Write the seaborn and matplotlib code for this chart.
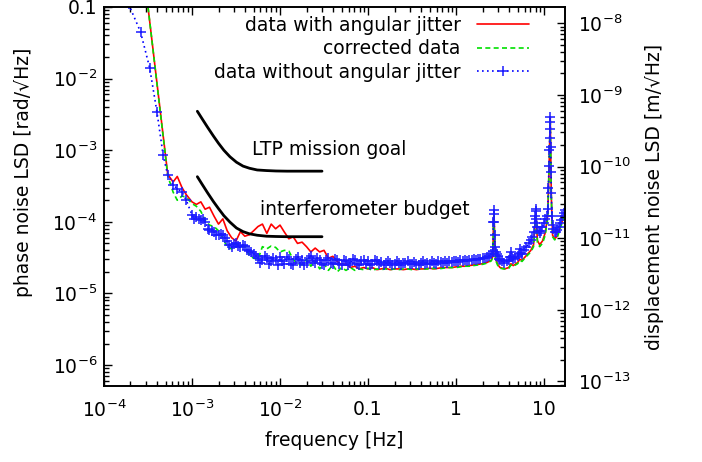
import matplotlib
matplotlib.use('Agg')
import matplotlib.pyplot as plt
import matplotlib.ticker as mticker
import numpy as np
import seaborn as sns

# all spectra below are phase noise LSD in units of 1e-5 rad/sqrt(Hz)
unit = 1e-5
nan = float('nan')

# frequency grid [Hz] for the two jitter-affected spectra
freq = [1.9e-4, 2.6e-4, 3.3e-4, 4.0e-4, 4.7e-4, 5.3e-4, 6.1e-4, 6.8e-4, 7.7e-4, 8.6e-4,
        1.0e-3, 1.12e-3, 1.26e-3, 1.41e-3, 1.58e-3, 1.78e-3, 2.0e-3, 2.24e-3, 2.51e-3, 2.82e-3,
        3.16e-3, 3.55e-3, 3.98e-3, 4.47e-3, 5.01e-3, 5.62e-3, 6.31e-3, 7.08e-3, 7.94e-3, 8.91e-3,
        0.01, 0.0112, 0.0126, 0.0141, 0.0158, 0.0178, 0.02, 0.0224, 0.0251, 0.0282,
        0.0316, 0.0355, 0.0398, 0.0447, 0.0501, 0.0562, 0.0631, 0.0708, 0.0794, 0.0891,
        0.1, 0.112, 0.126, 0.141, 0.158, 0.178, 0.2, 0.224, 0.251, 0.282,
        0.316, 0.355, 0.398, 0.447, 0.501, 0.562, 0.631, 0.708, 0.794, 0.891,
        1.0, 1.12, 1.26, 1.41, 1.58, 1.78, 2.0, 2.24, 2.51, 2.62,
        2.66, 2.70, 2.74, 2.82, 3.0, 3.16, 3.55, 3.98, 4.2, 4.47,
        5.01, 5.3, 5.62, 6.31, 7.08, 7.6, 7.9, 8.1, 8.4, 8.91,
        9.6, 10.3, 11.0, 11.4, 11.6, 11.75, 11.9, 12.1, 12.5, 13.2,
        14.1, 15.1, 16.2, 17.4]

with_jitter = [nan, 75000, 6400, 860, 160, 46, 36, 43, 30, 24,
               19, 17.5, 19, 15, 16, 12, 9.3, 11, 7.5, 6.0,
               5.4, 7.3, 6.3, 6.6, 7.5, 8.6, 9.3, 6.9, 9.3, 8.0,
               9.0, 7.2, 5.8, 6.2, 5.0, 5.2, 4.5, 3.8, 4.3, 3.8,
               4.0, 3.1, 3.3, 2.8, 2.5, 2.6, 2.3, 2.4, 2.2, 2.3,
               2.2, 2.3, 2.15, 2.2, 2.25, 2.15, 2.2, 2.2, 2.15, 2.2,
               2.2, 2.15, 2.2, 2.2, 2.25, 2.2, 2.25, 2.3, 2.3, 2.3,
               2.35, 2.4, 2.4, 2.45, 2.5, 2.55, 2.6, 2.7, 2.9, 3.3,
               9, 14, 6, 3.0, 2.5, 2.3, 2.2, 2.3, 2.6, 2.45,
               2.7, 3.0, 2.9, 3.4, 4.0, 4.8, 9, 13, 5.5, 4.8,
               5.4, 7.0, 12, 55, 140, 290, 100, 22, 6.5, 5.8,
               6.3, 8.0, 10.5, 13.5]

corrected = [nan, 75000, 6400, 840, 155, 44, 26, 20, 23, 22,
             18, 16.5, 14, 10.5, 9.0, 8.6, 7.5, 6.0, 4.4, 4.2,
             4.9, 4.4, 4.6, 3.4, 3.1, 3.0, 4.5, 4.2, 4.6, 4.4,
             3.8, 4.0, 3.9, 3.0, 2.6, 2.5, 3.0, 2.4, 2.9, 2.2,
             2.6, 2.1, 2.5, 2.0, 2.3, 2.1, 2.3, 2.1, 2.2, 2.15,
             2.25, 2.1, 2.2, 2.15, 2.2, 2.15, 2.2, 2.15, 2.2, 2.2,
             2.15, 2.2, 2.2, 2.2, 2.2, 2.25, 2.2, 2.25, 2.3, 2.3,
             2.3, 2.35, 2.4, 2.4, 2.45, 2.5, 2.55, 2.65, 2.85, 3.2,
             9, 13.5, 6, 2.9, 2.4, 2.25, 2.2, 2.25, 2.5, 2.4,
             2.6, 2.9, 2.8, 3.3, 3.8, 4.5, 8.5, 12.5, 5.2, 4.5,
             5.0, 6.5, 11, 55, 140, 280, 100, 21, 6.2, 5.6,
             6.0, 7.8, 10, 13]

# denser grid for the reference run (one marker per point)
freq_nj = [1.9e-4, 2.6e-4, 3.3e-4, 4.0e-4, 4.7e-4, 5.3e-4, 6.1e-4, 6.8e-4, 7.7e-4, 8.6e-4,
           1.0e-3, 1.06e-3, 1.12e-3, 1.19e-3, 1.26e-3, 1.33e-3, 1.41e-3, 1.5e-3, 1.58e-3, 1.68e-3,
           1.78e-3, 1.88e-3, 2.0e-3, 2.11e-3, 2.24e-3, 2.37e-3, 2.51e-3, 2.66e-3, 2.82e-3, 2.99e-3,
           3.16e-3, 3.35e-3, 3.55e-3, 3.76e-3, 3.98e-3, 4.22e-3, 4.47e-3, 4.73e-3, 5.01e-3, 5.31e-3,
           5.62e-3, 5.96e-3, 6.31e-3, 6.68e-3, 7.08e-3, 7.5e-3, 7.94e-3, 8.41e-3, 8.91e-3, 9.44e-3,
           0.01, 0.0106, 0.0112, 0.0119, 0.0126, 0.0133, 0.0141, 0.015, 0.0158, 0.0168,
           0.0178, 0.0188, 0.02, 0.0211, 0.0224, 0.0237, 0.0251, 0.0266, 0.0282, 0.0299,
           0.0316, 0.0335, 0.0355, 0.0376, 0.0398, 0.0422, 0.0447, 0.0473, 0.0501, 0.0531,
           0.0562, 0.0596, 0.0631, 0.0668, 0.0708, 0.075, 0.0794, 0.0841, 0.0891, 0.0944,
           0.1, 0.106, 0.112, 0.119, 0.126, 0.133, 0.141, 0.15, 0.158, 0.168,
           0.178, 0.188, 0.2, 0.211, 0.224, 0.237, 0.251, 0.266, 0.282, 0.299,
           0.316, 0.335, 0.355, 0.376, 0.398, 0.422, 0.447, 0.473, 0.501, 0.531,
           0.562, 0.596, 0.631, 0.668, 0.708, 0.75, 0.794, 0.841, 0.891, 0.944,
           1.0, 1.06, 1.12, 1.19, 1.26, 1.33, 1.41, 1.5, 1.58, 1.68,
           1.78, 1.88, 2.0, 2.11, 2.24, 2.37, 2.51,
           2.62, 2.66, 2.68, 2.70, 2.72, 2.74, 2.78, 2.82, 2.9, 3.0,
           3.08, 3.16, 3.35, 3.55, 3.76, 3.98, 4.1, 4.2, 4.3, 4.47,
           4.73, 5.01, 5.15, 5.3, 5.45, 5.62, 5.96, 6.31, 6.68, 7.08,
           7.35, 7.6, 7.8, 7.9, 8.0, 8.1, 8.2, 8.4, 8.65, 8.91,
           9.2, 9.6, 9.95, 10.3, 10.7, 11.0, 11.2, 11.4, 11.5, 11.6,
           11.7, 11.75, 11.8, 11.9, 12.0, 12.1, 12.3, 12.5, 12.8, 13.2,
           13.6, 14.1, 14.6, 15.1, 15.6, 16.2, 16.8, 17.4]

without_jitter = [11000, 4500, 1420, 340, 85, 45, 33, 29, 26, 20,
                  12.5, 11.0, 11.5, 11.0, 10.5, 11.0, 10.0, 8.0, 7.8, 7.5,
                  7.2, 6.6, 6.5, 6.8, 6.6, 6.0, 5.4, 4.8, 4.5, 4.9,
                  5.0, 4.6, 4.4, 4.8, 4.6, 4.1, 3.9, 3.8, 3.6, 3.3,
                  3.1, 2.7, 2.9, 3.3, 3.1, 2.6, 2.8, 3.1, 2.9, 2.5,
                  3.2, 2.8, 2.6, 3.2, 3.0, 2.6, 2.5, 3.0, 3.2, 2.7,
                  2.9, 2.5, 2.7, 3.1, 3.3, 2.8, 2.7, 3.1, 2.9, 2.6,
                  2.5, 2.9, 3.1, 2.7, 2.6, 3.0, 2.9, 2.6, 2.5, 2.9,
                  2.8, 2.5, 2.7, 3.0, 2.9, 2.6, 2.5, 2.8, 2.9, 2.6,
                  2.8, 2.5, 2.6, 2.9, 2.8, 2.55, 2.75, 2.5, 2.65, 2.85,
                  2.7, 2.5, 2.6, 2.85, 2.7, 2.5, 2.65, 2.7, 2.8, 2.55,
                  2.6, 2.75, 2.6, 2.5, 2.7, 2.8, 2.6, 2.7, 2.55, 2.8,
                  2.7, 2.6, 2.8, 2.75, 2.65, 2.8, 2.7, 2.85, 2.75, 2.8,
                  2.8, 2.75, 2.9, 2.8, 2.9, 2.85, 2.95, 2.9, 3.0, 2.95,
                  3.05, 3.0, 3.1, 3.15, 3.2, 3.3, 3.5,
                  3.9, 10, 13, 14.5, 10, 6.5, 4.5, 3.8, 3.5, 3.3,
                  3.0, 2.9, 2.8, 2.7, 2.8, 2.9, 3.2, 3.8, 3.2, 3.0,
                  3.1, 3.3, 3.6, 4.2, 3.7, 3.6, 4.0, 4.5, 5.0, 5.5,
                  6.2, 7.3, 9.5, 12, 14, 15, 11, 8.5, 7.5, 7.0,
                  7.5, 8.5, 9.5, 11, 12, 15, 30, 60, 100, 150,
                  250, 290, 200, 110, 50, 25, 12, 9.0, 8.0, 7.3,
                  7.3, 7.8, 8.5, 9.5, 10.5, 12, 13.5, 14.5]

# requirement curves [rad/sqrt(Hz)]
goal_freq = [1.15e-3, 1.3e-3, 1.5e-3, 1.75e-3, 2.0e-3, 2.3e-3, 2.7e-3, 3.2e-3, 3.8e-3,
             4.5e-3, 5.5e-3, 7e-3, 9e-3, 1.2e-2, 1.6e-2, 2.2e-2, 3.0e-2]
ltp_goal = [3.5e-3, 2.76e-3, 2.1e-3, 1.58e-3, 1.25e-3, 1.0e-3, 8.1e-4, 6.8e-4, 6.0e-4,
            5.6e-4, 5.3e-4, 5.2e-4, 5.13e-4, 5.1e-4, 5.1e-4, 5.1e-4, 5.1e-4]
ifo_budget = [4.27e-4, 3.36e-4, 2.55e-4, 1.92e-4, 1.53e-4, 1.22e-4, 9.9e-5, 8.2e-5, 7.3e-5,
              6.8e-5, 6.5e-5, 6.3e-5, 6.24e-5, 6.2e-5, 6.2e-5, 6.2e-5, 6.2e-5]

x_ticks = [1e-4, 1e-3, 1e-2, 0.1, 1, 10]
x_tick_labels = [r'$10^{-4}$', r'$10^{-3}$', r'$10^{-2}$', '0.1', '1', '10']
y_ticks = [1e-6, 1e-5, 1e-4, 1e-3, 1e-2, 0.1]
y_tick_labels = [r'$10^{-6}$', r'$10^{-5}$', r'$10^{-4}$', r'$10^{-3}$', r'$10^{-2}$', '0.1']
y2_ticks = [1e-13, 1e-12, 1e-11, 1e-10, 1e-9, 1e-8]
y2_tick_labels = [r'$10^{-13}$', r'$10^{-12}$', r'$10^{-11}$', r'$10^{-10}$', r'$10^{-9}$', r'$10^{-8}$']

assert len(freq) == len(with_jitter) == len(corrected)
assert len(freq_nj) == len(without_jitter)

# phase -> displacement, lambda/(2 pi) for 1064 nm
rad_to_m = 1.064e-6 / (2 * np.pi)

sns.set_style('ticks')
plt.rcParams['font.family'] = ['DejaVu Sans']
plt.rcParams['font.size'] = 13.5
plt.rcParams['mathtext.default'] = 'regular'
for k in ('text.color', 'axes.labelcolor', 'xtick.color', 'ytick.color', 'axes.edgecolor'):
    plt.rcParams[k] = 'black'

fig = plt.figure(figsize=(7.02, 4.62), dpi=100)
ax = fig.add_axes([104 / 702, 76 / 462, 461 / 702, 379 / 462])
ax.set_xscale('log')
ax.set_yscale('log')

sns.lineplot(x=freq, y=np.array(with_jitter) * unit, ax=ax, sort=False, estimator=None,
             color='#ff0000', lw=1.2, label='data with angular jitter')
sns.lineplot(x=freq, y=np.array(corrected) * unit, ax=ax, sort=False, estimator=None,
             color='#00e000', lw=1.2, linestyle=(0, (3, 2)), label='corrected data')
sns.lineplot(x=freq_nj, y=np.array(without_jitter) * unit, ax=ax, sort=False, estimator=None,
             color='#0000ff', lw=1.2, linestyle=(0, (1, 2)), marker='+', ms=7,
             mew=1.1, mec='#1a1aff', label='data without angular jitter')
sns.lineplot(x=goal_freq, y=ltp_goal, ax=ax, sort=False, estimator=None,
             color='black', lw=2)
sns.lineplot(x=goal_freq, y=ifo_budget, ax=ax, sort=False, estimator=None,
             color='black', lw=2)

ax.text(4.8e-3, 1.03e-3, 'LTP mission goal', ha='left', va='center')
ax.text(6.0e-3, 1.48e-4, 'interferometer budget', ha='left', va='center')

ylo, yhi = 5.1e-7, 0.1
ax.set_xlim(1e-4, 17.3)
ax.set_ylim(ylo, yhi)
ax.set_xticks(x_ticks)
ax.set_xticklabels(x_tick_labels)
ax.set_yticks(y_ticks)
ax.set_yticklabels(y_tick_labels)
ax.xaxis.set_minor_formatter(mticker.NullFormatter())
ax.yaxis.set_minor_formatter(mticker.NullFormatter())
ax.tick_params(axis='both', which='both', direction='in', width=1)
ax.tick_params(axis='both', which='major', length=6)
ax.tick_params(axis='both', which='minor', length=3.5)
ax.tick_params(axis='x', which='both', top=True, pad=10)
ax.tick_params(axis='y', which='both', right=False, pad=5)
ax.set_xlabel('frequency [Hz]')
ax.set_ylabel('phase noise LSD [rad/\u221aHz]')
ax.xaxis.set_label_coords(0.5, -0.12)
ax.yaxis.set_label_coords(-0.154, 0.565)

ax2 = ax.twinx()
ax2.set_yscale('log')
ax2.set_ylim(ylo * rad_to_m, yhi * rad_to_m)
ax2.set_yticks(y2_ticks)
ax2.set_yticklabels(y2_tick_labels)
ax2.yaxis.set_minor_formatter(mticker.NullFormatter())
ax2.tick_params(axis='y', which='both', direction='in', width=1, pad=9)
ax2.tick_params(axis='y', which='major', length=6)
ax2.tick_params(axis='y', which='minor', length=3.5)
ax2.set_ylabel('displacement noise LSD [m/\u221aHz]')
ax2.yaxis.set_label_coords(1.174, 0.5)

for a in (ax, ax2):
    for s in a.spines.values():
        s.set_linewidth(1.2)
        s.set_color('black')

h, l = ax.get_legend_handles_labels()
ax.legend(h[:3], l[:3], loc='upper right', bbox_to_anchor=(0.922, 0.977),
          frameon=False, markerfirst=False, handlelength=2.8, handletextpad=0.85,
          labelspacing=0.24, borderpad=0, borderaxespad=0, numpoints=1)

fig.savefig('out.png', dpi=100)
